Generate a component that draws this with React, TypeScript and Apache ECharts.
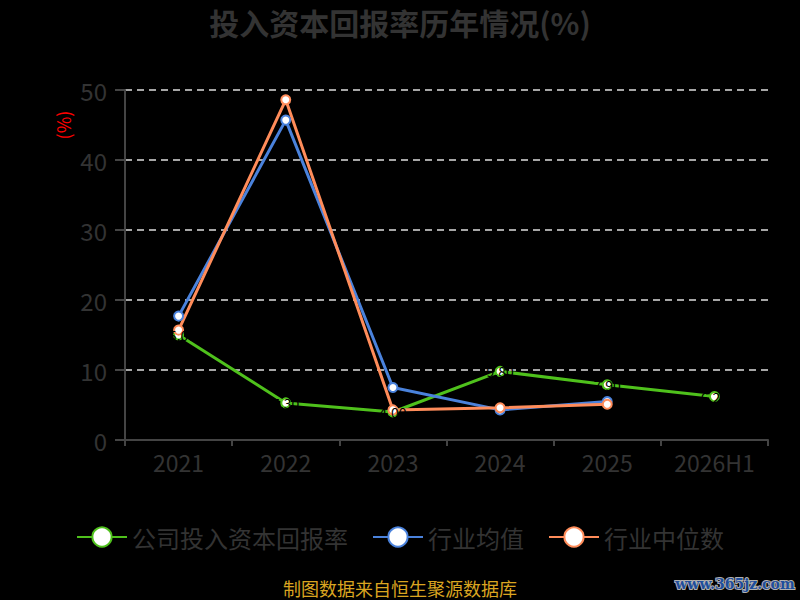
import React, { useEffect, useRef } from "react";
import * as echarts from "echarts";

const categories = ["2021", "2022", "2023", "2024", "2025", "2026H1"];
const companyValues = [15.0, 5.3, 4.0, 9.8, 7.9, 6.2];
const industryAvg = [17.7, 45.7, 7.5, 4.3, 5.5];
const industryMedian = [15.7, 48.6, 4.3, 4.6, 5.1];
const seriesNames = ["公司投入资本回报率", "行业均值", "行业中位数"];
const yTicks = { min: 0, max: 50, interval: 10 };

const FONT = "'Noto Sans CJK SC', 'Noto Sans', sans-serif";

export default function App() {
  const ref = useRef<HTMLDivElement>(null);
  useEffect(() => {
    if (!ref.current) return;
    const chart = echarts.init(ref.current, null, { renderer: "svg" });
    const mk = (name: string, data: number[], color: string, label: boolean) => ({
      name,
      type: "line",
      data,
      symbol: "emptyCircle",
      symbolSize: 9,
      lineStyle: { color, width: 3 },
      itemStyle: { color, borderWidth: 2 },
      label: label
        ? { show: true, position: "inside", color: "#000", fontSize: 14, fontFamily: FONT, formatter: (p: any) => p.value.toFixed(2) }
        : { show: false },
    });
    chart.setOption({
      animation: false,
      backgroundColor: "#000",
      textStyle: { fontFamily: FONT },
      title: {
        text: "投入资本回报率历年情况(%)",
        left: "center",
        top: 2,
        textStyle: { color: "#333", fontSize: 30, fontWeight: "bold", fontFamily: FONT },
      },
      grid: { left: 125, right: 32, top: 90, bottom: 160 },
      legend: {
        top: 520,
        left: "center",
        itemWidth: 50,
        itemHeight: 24,
        itemGap: 24,
        textStyle: { color: "#333", fontSize: 24, fontFamily: FONT },
        data: seriesNames,
      },
      xAxis: {
        type: "category",
        data: categories,
        boundaryGap: true,
        axisLine: { lineStyle: { color: "#444", width: 2 } },
        axisTick: { show: true, length: 6, interval: 0, lineStyle: { color: "#444", width: 2 } },
        axisLabel: { color: "#333", fontSize: 23, margin: 10, interval: 0, fontFamily: FONT },
      },
      yAxis: {
        type: "value",
        min: yTicks.min,
        max: yTicks.max,
        interval: yTicks.interval,
        axisLine: { show: true, lineStyle: { color: "#444", width: 2 } },
        axisTick: { show: true, length: 10, lineStyle: { color: "#444", width: 2 } },
        axisLabel: { color: "#333", fontSize: 24, margin: 18, fontFamily: FONT },
        splitLine: { show: true, lineStyle: { color: "#ddd", width: 1.5, type: [7, 5] } },
      },
      series: [
        mk(seriesNames[0], companyValues, "#4fc11c", true),
        mk(seriesNames[1], industryAvg, "#4a82dc", false),
        mk(seriesNames[2], industryMedian, "#ff8c5a", false),
      ],
      graphic: [
        {
          type: "text",
          x: 63,
          y: 125,
          rotation: Math.PI / 2,
          style: { text: "(%)", fill: "#ff0000", fontSize: 18, fontFamily: FONT, align: "center", verticalAlign: "middle" },
        },
        {
          type: "text",
          x: 400,
          y: 588,
          style: { text: "制图数据来自恒生聚源数据库", fill: "#daa520", fontSize: 18, fontFamily: FONT, align: "center", verticalAlign: "middle" },
        },
        {
          type: "text",
          x: 735,
          y: 584,
          style: {
            text: "www.365jz.com",
            fill: "#1f4e9c",
            stroke: "#b0b0b0",
            lineWidth: 2,
            fontSize: 14,
            fontWeight: "bold",
            fontFamily: "'DejaVu Serif', serif",
            align: "center",
            verticalAlign: "middle",
          },
        },
      ],
    });
    return () => chart.dispose();
  }, []);
  return <div ref={ref} style={{ position: "fixed", left: 0, top: 0, width: 800, height: 600 }} />;
}
